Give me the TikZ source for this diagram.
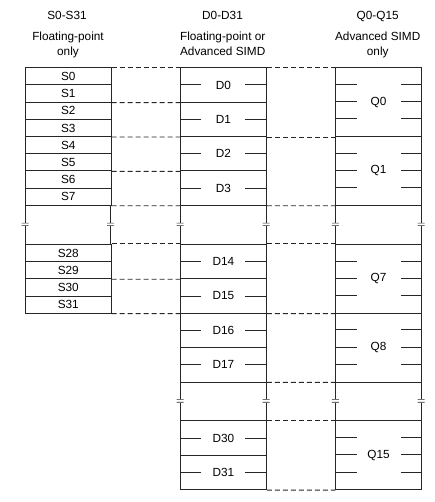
\documentclass[tikz,border=0pt]{standalone}
\usepackage{fontspec}
\setmainfont{Liberation Sans}
\usetikzlibrary{calc}
\tikzset{
  x=1pt, y=-1pt,
  ln/.style={draw=black!85, line width=0.9pt},
  scell/.style={ln, rectangle, minimum width=85.7pt, minimum height=17.2pt, inner sep=0pt, anchor=north west, font=\fontsize{11.8}{13}\selectfont},
  dcell/.style={ln, rectangle, minimum width=86pt, minimum height=34.4pt, inner sep=0pt, anchor=north west, font=\fontsize{11.8}{13}\selectfont},
  qcell/.style={ln, rectangle, minimum width=85.7pt, minimum height=68.8pt, inner sep=0pt, anchor=north west, font=\fontsize{11.8}{13}\selectfont},
  hdr/.style={align=center, font=\fontsize{11.8}{15}\selectfont, inner sep=0pt},
  conn/.style={draw=black!85, line width=0.9pt, dash pattern=on 5pt off 3pt},
  tick/.style={draw=black!85, line width=0.9pt},
}
\newcommand\brkmark[3]{% x, ytop, ybottom
  \draw[ln] (#1,#2) -- (#1,{(#2+#3)/2-1.8});
  \draw[ln] (#1,{(#2+#3)/2+1.8}) -- (#1,#3);
  \draw[line width=0.6pt, black!85] (#1-3.5,{(#2+#3)/2-1.3}) .. controls (#1-1,{(#2+#3)/2-2.6}) and (#1+1,{(#2+#3)/2}) .. (#1+3.5,{(#2+#3)/2-1.3});
  \draw[line width=0.6pt, black!85] (#1-3.5,{(#2+#3)/2+1.3}) .. controls (#1-1,{(#2+#3)/2}) and (#1+1,{(#2+#3)/2+2.6}) .. (#1+3.5,{(#2+#3)/2+1.3});
}
\begin{document}
\begin{tikzpicture}
\useasboundingbox (0,0) rectangle (435,502);

% headers
\node[hdr, anchor=base] (hs) at (67,19.5) {S0-S31};
\node[hdr, anchor=base] (hd) at (222.5,19.5) {D0-D31};
\node[hdr, anchor=base] (hq) at (377.7,19.5) {Q0-Q15};
\node[hdr, anchor=north] (ts) at (68,31.5) {Floating-point\\only};
\node[hdr, anchor=north] (td) at (222.7,31.5) {Floating-point or\\Advanced SIMD};
\node[hdr, anchor=north] (tq) at (377.7,31.5) {Advanced SIMD\\only};

% S column
\foreach \i in {0,...,7} {
  \node[scell] (S\i) at (25,{67.3+17.2*\i}) {S\i};
}
\foreach \i [count=\k from 0] in {28,...,31} {
  \node[scell] (S\i) at (25,{243.9+17.2*\k}) {S\i};
}

% D column
\foreach \i in {0,...,3} {
  \node[dcell] (D\i) at (180,{67.3+34.4*\i}) {D\i};
}
\node[dcell] (D14) at (180,243.9) {D14};
\node[dcell] (D15) at (180,278.3) {D15};
\node[dcell] (D16) at (180,312.7) {D16};
\node[dcell] (D17) at (180,347.1) {D17};
\node[dcell] (D30) at (180,420.4) {D30};
\node[dcell] (D31) at (180,454.8) {D31};
\foreach \n in {0,1,2,3,14,15,16,17,30,31} {
  \draw[tick] (D\n.west) -- ++(20.7,0);
  \draw[tick] (D\n.east) -- ++(-21.5,0);
}

% Q column
\node[qcell] (Q0) at (335.3,67.3) {Q0};
\node[qcell] (Q1) at (335.3,136.1) {Q1};
\node[qcell] (Q7) at (335.3,243.9) {Q7};
\node[qcell] (Q8) at (335.3,312.7) {Q8};
\node[qcell] (Q15) at (335.3,420.4) {Q15};
\foreach \n in {0,1,7,8,15} {
  \foreach \k in {1,2,3} {
    \draw[tick] ($(Q\n.north west)+(0,17.2*\k)$) -- ++(21.4,0);
    \draw[tick] ($(Q\n.north east)+(0,17.2*\k)$) -- ++(-21.2,0);
  }
}

% gaps with break marks
\foreach \x in {25,110.7,180,266,335.3,421} {
  \brkmark{\x}{204.9}{243.9}
}
\foreach \x in {180,266,335.3,421} {
  \brkmark{\x}{381.5}{420.4}
}

% dashed connectors S - D
\draw[conn] (S0.north east) -- (D0.north west);
\draw[conn] (S1.south east) -- (D0.south west);
\draw[conn] (S3.south east) -- (D1.south west);
\draw[conn] (S5.south east) -- (D2.south west);
\draw[conn] (S7.south east) -- (D3.south west);
\draw[conn] (S28.north east) -- (D14.north west);
\draw[conn] (S29.south east) -- (D14.south west);
\draw[conn] (S31.south east) -- (D15.south west);

% dashed connectors D - Q
\draw[conn] (D0.north east) -- (Q0.north west);
\draw[conn] (D1.south east) -- (Q0.south west);
\draw[conn] (D3.south east) -- (Q1.south west);
\draw[conn] (D14.north east) -- (Q7.north west);
\draw[conn] (D15.south east) -- (Q7.south west);
\draw[conn] (D17.south east) -- (Q8.south west);
\draw[conn] (D30.north east) -- (Q15.north west);
\draw[conn] (D31.south east) -- (Q15.south west);
\end{tikzpicture}
\end{document}
